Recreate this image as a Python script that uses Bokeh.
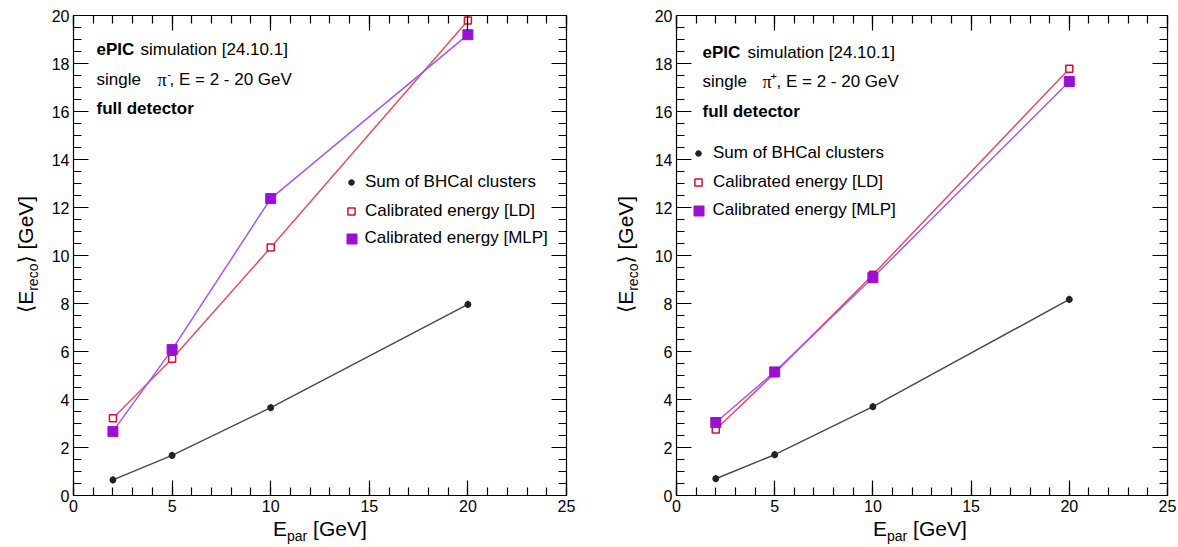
import math

from bokeh.embed import file_html
from bokeh.layouts import column, row
from bokeh.models import (CustomJSTickFormatter, Div, Label, Legend,
                          LegendItem, LinearAxis, Range1d,
                          SingleIntervalTicker)
from bokeh.plotting import figure
from bokeh.resources import INLINE

# ---------------------------------------------------------------- data
e_par = [2, 5, 10, 20]

# single pi- sample
neg_sum = [0.65, 1.67, 3.66, 7.96]
neg_ld = [3.22, 5.70, 10.33, 19.79]
neg_mlp = [2.67, 6.08, 12.37, 19.20]

# single pi+ sample
pos_sum = [0.70, 1.70, 3.70, 8.17]
pos_ld = [2.75, 5.10, 9.20, 17.78]
pos_mlp = [3.04, 5.15, 9.08, 17.25]

sum_err = [0.15, 0.15, 0.15, 0.15]

x_ticks = [0, 5, 10, 15, 20, 25]
y_ticks = [0, 2, 4, 6, 8, 10, 12, 14, 16, 18, 20]

legend_labels = ["Sum of BHCal clusters", "Calibrated energy [LD]",
                 "Calibrated energy [MLP]"]

# ---------------------------------------------------------------- style
FONT = "Liberation Sans"
SUM_COL, SUM_LINE = "#222222", "#4a4a4a"
LD_COL, LD_LINE = "#d0103a", "#e0506a"
MLP_COL, MLP_LINE = "#9a10d2", "#a858e6"

FRAME_TOP, FRAME_H = 15, 480
FIG_H = 520          # plot canvas height; the x title sits below it
TITLE_W = 40         # strip left of each canvas holding the y title
X_MAX, Y_MAX = x_ticks[-1], y_ticks[-1]

TITLE_CSS = ("position:absolute; white-space:nowrap; color:black; "
             "font-family:'Liberation Sans', 'DejaVu Sans', sans-serif; "
             "font-size:21px; line-height:21px;")
SUB_CSS = "font-size:14px; position:relative; top:5px;"


def style_axis(ax, interval, minor, labels=True):
    ax.ticker = SingleIntervalTicker(interval=interval, num_minor_ticks=minor)
    ax.major_tick_in, ax.major_tick_out = 15, 0
    ax.minor_tick_in, ax.minor_tick_out = 8, 0
    for attr in ("axis_line_color", "major_tick_line_color",
                 "minor_tick_line_color"):
        setattr(ax, attr, "black")
    ax.axis_line_width = 1.2
    ax.major_tick_line_width = 1.2
    ax.minor_tick_line_width = 1.2
    ax.major_label_text_font = FONT
    ax.major_label_text_font_size = "16px"
    ax.major_label_text_color = "black"
    ax.major_label_standoff = 4
    if not labels:
        ax.formatter = CustomJSTickFormatter(code="return ''")
        ax.major_label_standoff = 0


def make_panel(sums, lds, mlps, frame_left, frame_w, border_r, charge,
               header, legend_rows):
    border_l = frame_left - TITLE_W
    p = figure(frame_width=frame_w, frame_height=FRAME_H,
               width=border_l + frame_w + border_r, height=FIG_H,
               min_border_left=border_l, min_border_right=border_r,
               min_border_top=FRAME_TOP,
               min_border_bottom=FIG_H - FRAME_TOP - FRAME_H,
               x_range=Range1d(0, X_MAX), y_range=Range1d(0, Y_MAX),
               output_backend="svg", toolbar_location=None)
    p.xgrid.visible = False
    p.ygrid.visible = False
    p.outline_line_color = "black"
    p.background_fill_color = "white"
    p.border_fill_color = "white"

    style_axis(p.xaxis[0], 5, 5)
    style_axis(p.yaxis[0], 2, 4)
    top = LinearAxis()
    style_axis(top, 5, 5, labels=False)
    p.add_layout(top, "above")
    right = LinearAxis()
    style_axis(right, 2, 4, labels=False)
    p.add_layout(right, "right")

    # page pixel (relative to this panel) -> data, for text placement
    def dx(px):
        return (px - frame_left) / frame_w * X_MAX

    def dy(py):
        return Y_MAX - (py - FRAME_TOP) / FRAME_H * Y_MAX

    # series
    p.line(e_par, sums, line_color=SUM_LINE, line_width=1.5)
    p.line(e_par, lds, line_color=LD_LINE, line_width=1.5)
    p.line(e_par, mlps, line_color=MLP_LINE, line_width=1.5)
    p.segment(x0=e_par, x1=e_par,
              y0=[v - e for v, e in zip(sums, sum_err)],
              y1=[v + e for v, e in zip(sums, sum_err)],
              line_color=SUM_COL, line_width=1.5)
    r_sum = p.scatter(e_par, sums, marker="circle", size=6,
                      fill_color=SUM_COL, line_color=SUM_COL)
    r_ld = p.scatter(e_par, lds, marker="square", size=7, fill_color="white",
                     line_color=LD_COL, line_width=1.5)
    r_mlp = p.scatter(e_par, mlps, marker="square", size=10,
                      fill_color=MLP_COL, line_color=MLP_COL)

    # legend, one block per entry so each keeps its own marker size
    marker_x, text_x = legend_rows["marker_x"], legend_rows["text_x"]
    for rend, lab, glyph, yc in zip((r_sum, r_ld, r_mlp), legend_labels,
                                    (14, 18, 25), legend_rows["rows"]):
        lx = marker_x - frame_left - glyph / 2
        leg = Legend(items=[LegendItem(label=lab, renderers=[rend])],
                     location=(lx, (FRAME_TOP + FRAME_H) - yc - 14),
                     border_line_color=None, background_fill_alpha=0,
                     padding=0, margin=0, spacing=0,
                     glyph_width=glyph, glyph_height=glyph, label_height=28,
                     label_standoff=int(text_x - (marker_x + glyph / 2)),
                     label_text_font=FONT, label_text_font_size="17px",
                     label_text_color="black")
        p.add_layout(leg)

    # header text
    x0, x1, xpi, xsup, xrest = header["x"]
    y1, y2, y3 = header["y"]

    def lab(text, px, py, size="17px", style="normal", font=FONT):
        p.add_layout(Label(x=dx(px), y=dy(py), text=text, text_font=font,
                           text_font_size=size, text_font_style=style,
                           text_color="black", text_align="left",
                           text_baseline="middle"))

    lab("ePIC", x0, y1, style="bold")
    lab("simulation [24.10.1]", x1, y1)
    lab("single", x0, y2)
    lab("π", xpi, y2, size="18px", font="Liberation Serif")
    lab(charge, xsup, y2 - 6, size="11px")
    lab(", E = 2 - 20 GeV", xrest, y2)
    lab("full detector", x0, y3, style="bold")

    # y title: text rotated to read bottom-to-top, baseline at x=33
    ytitle = Div(
        text=(f'<div style="position:relative; width:{TITLE_W}px; '
              f'height:{FIG_H}px;">'
              f'<span style="{TITLE_CSS} left:15px; top:313px; '
              f'transform-origin:0 0; transform:rotate(-90deg);">'
              f'⟨E<span style="{SUB_CSS}">reco</span>⟩ [GeV]</span></div>'),
        width=TITLE_W, height=FIG_H, margin=0)

    # x title under the canvas
    xtitle = Div(
        text=(f'<div style="position:relative; width:{frame_left + frame_w + border_r}px; '
              f'height:{547 - FIG_H}px;">'
              f'<span style="{TITLE_CSS} left:273px; top:-2px;">'
              f'E<span style="{SUB_CSS}">par</span> [GeV]</span></div>'),
        width=frame_left + frame_w + border_r, height=547 - FIG_H, margin=0)

    return column(row(ytitle, p, spacing=0), xtitle, spacing=0)


panel_left = make_panel(neg_sum, neg_ld, neg_mlp, frame_left=73, frame_w=493,
                        border_r=34, charge="-",
                        header={"x": (96, 140, 157, 167, 169),
                                "y": (49, 79, 108)},
                        legend_rows={"marker_x": 351, "text_x": 365,
                                     "rows": (182, 211, 238)})

panel_right = make_panel(pos_sum, pos_ld, pos_mlp, frame_left=76, frame_w=491,
                         border_r=11, charge="+",
                         header={"x": (102, 147, 162, 170, 176),
                                 "y": (52, 81, 111)},
                         legend_rows={"marker_x": 98, "text_x": 113,
                                      "rows": (153, 182, 210)})

layout = row(panel_left, panel_right, spacing=0)
open("out.html", "w").write(file_html(layout, INLINE))
